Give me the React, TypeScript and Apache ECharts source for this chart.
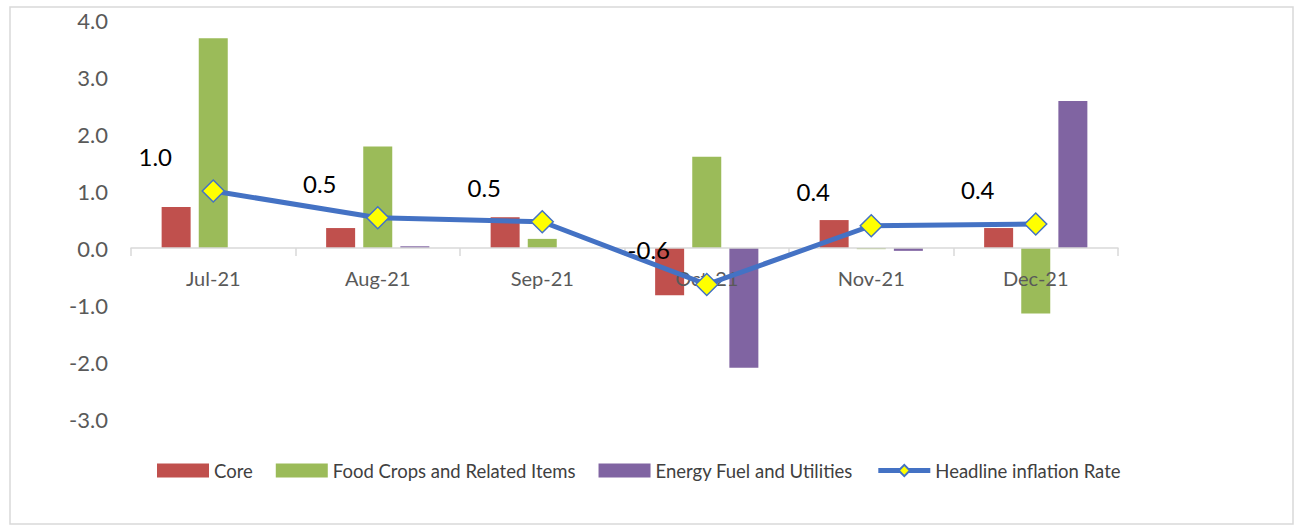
import React, { useEffect, useRef } from "react";
import * as echarts from "echarts";

const categories = ["Jul-21", "Aug-21", "Sep-21", "Oct-21", "Nov-21", "Dec-21"];
const core = [0.72, 0.35, 0.54, -0.83, 0.49, 0.35];
const foodCrops = [3.68, 1.78, 0.16, 1.6, -0.02, -1.15];
const energy = [0, 0.03, 0, -2.1, -0.05, 2.58];
const headline = [1.0, 0.53, 0.46, -0.64, 0.39, 0.42];

const FONT = "Lato, 'Open Sans', sans-serif";

export default function App() {
  const ref = useRef<HTMLDivElement>(null);
  useEffect(() => {
    document.body.style.margin = "0";
    const chart = echarts.init(ref.current!, null, { renderer: "svg" });
    chart.setOption({
      animation: false,
      textStyle: { fontFamily: FONT },
      graphic: [
        {
          type: "rect",
          shape: { x: 10, y: 7, width: 1283, height: 517 },
          style: { fill: "none", stroke: "#D9D9D9", lineWidth: 1.5 },
          silent: true,
        },
      ],
      grid: { left: 131, right: 180, top: 20, bottom: 107 },
      legend: {
        top: 456,
        left: 152,
        itemWidth: 52,
        itemHeight: 14,
        itemGap: 23,
        textStyle: { fontSize: 18.5, color: "#404040", fontFamily: FONT },
        data: [
          { name: "Core", icon: "rect" },
          { name: "Food Crops and Related Items", icon: "rect" },
          { name: "Energy Fuel and Utilities", icon: "rect" },
          {
            name: "Headline inflation Rate",
            lineStyle: { width: 5, color: "#4472C4" },
          },
        ],
      },
      xAxis: {
        type: "category",
        data: categories,
        offset: -171,
        z: 3,
        axisLine: { onZero: false, lineStyle: { color: "#D9D9D9", width: 1.5 } },
        axisTick: { show: true, length: 8, lineStyle: { color: "#D9D9D9", width: 1.5 } },
        axisLabel: { fontSize: 20, color: "#595959", margin: 20, fontFamily: FONT },
      },
      yAxis: {
        type: "value",
        min: -3,
        max: 4,
        interval: 1,
        splitLine: { show: false },
        axisLine: { show: false },
        axisTick: { show: false },
        axisLabel: {
          fontSize: 22,
          color: "#595959",
          margin: 23,
          fontFamily: FONT,
          formatter: (v: number) => v.toFixed(1),
        },
      },
      series: [
        {
          name: "Core",
          type: "bar",
          data: core,
          barWidth: 29,
          barGap: "28%",
          itemStyle: { color: "#C0504D" },
        },
        {
          name: "Food Crops and Related Items",
          type: "bar",
          data: foodCrops,
          barWidth: 29,
          barGap: "28%",
          itemStyle: { color: "#9BBB59" },
        },
        {
          name: "Energy Fuel and Utilities",
          type: "bar",
          data: energy,
          barWidth: 29,
          barGap: "28%",
          itemStyle: { color: "#8064A2" },
        },
        {
          name: "Headline inflation Rate",
          type: "line",
          data: headline,
          z: 5,
          symbol: "diamond",
          symbolSize: 22,
          lineStyle: { color: "#4472C4", width: 5 },
          itemStyle: { color: "#FFFF00", borderColor: "#4472C4", borderWidth: 1.5 },
          label: {
            show: true,
            position: "top",
            offset: [-58, -6],
            fontSize: 24,
            color: "#000",
            fontFamily: FONT,
            formatter: (p: any) => Number(p.value).toFixed(1),
          },
        },
      ],
    });
    return () => chart.dispose();
  }, []);
  return <div ref={ref} style={{ width: 1298, height: 526 }} />;
}
